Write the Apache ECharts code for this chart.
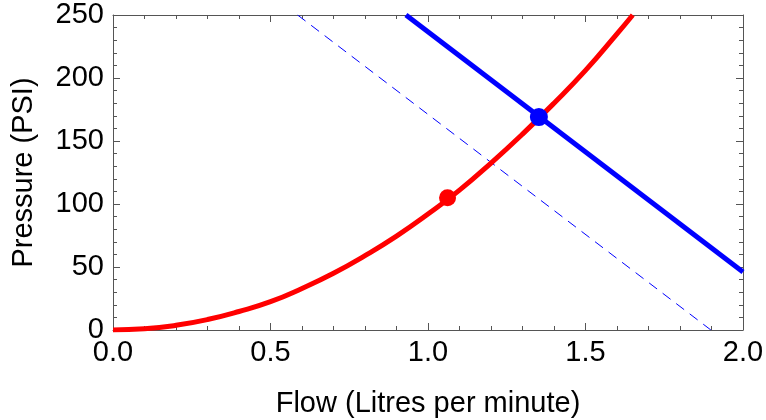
<!DOCTYPE html>
<html>
<head>
<meta charset="utf-8">
<script src="https://cdn.jsdelivr.net/npm/echarts@6/dist/echarts.min.js"></script>
<style>html,body{margin:0;padding:0;background:#fff}#c{width:766px;height:420px}</style>
</head>
<body>
<div id="c"></div>
<script>
// Pump curve (red): flow (L/min) vs pressure (PSI)
const pumpFlow = [0, 0.1, 0.2, 0.3, 0.4, 0.5, 0.6, 0.7, 0.8, 0.9, 1.0, 1.1, 1.2, 1.3, 1.4, 1.5, 1.6, 1.65];
const pumpPressure = [0, 0.9, 3.7, 8.3, 14.7, 22.5, 33, 45, 59, 74.5, 92, 111, 132.5, 155.5, 180, 206, 235, 250];
// System line (solid blue)
const sysFlow = [0.93, 2.0];
const sysPressure = [250, 46];
// Shifted system line (dashed blue)
const sys2Flow = [0.586, 1.898];
const sys2Pressure = [250, 0];
// Marked operating points
const redPoint = [1.062, 105];
const bluePoint = [1.352, 169];
// Axis settings
const xMin = 0, xMax = 2, xStep = 0.5;
const yMin = 0, yMax = 250, yStep = 50;
const xTitle = 'Flow (Litres per minute)';
const yTitle = 'Pressure (PSI)';

const pair = (xs, ys) => xs.map((x, i) => [x, ys[i]]);
const FONT = '"Liberation Sans", Arial, sans-serif';
const axisCol = '#555';

function xa(pos, labels) {
  return {
    type: 'value', position: pos, min: xMin, max: xMax, interval: xStep,
    name: labels ? xTitle : '', nameLocation: 'middle', nameGap: 59,
    nameTextStyle: { color: '#000', fontSize: 29, fontFamily: FONT },
    axisLine: { show: true, onZero: false, lineStyle: { color: axisCol, width: 1 } },
    axisTick: { show: true, inside: true, length: 7, lineStyle: { color: axisCol } },
    minorTick: { show: true, splitNumber: 5, length: 4, lineStyle: { color: axisCol } },
    axisLabel: { show: labels, color: '#000', fontSize: 29, fontFamily: FONT, margin: 8,
                 formatter: v => v.toFixed(1) },
    splitLine: { show: false }, minorSplitLine: { show: false }
  };
}
function ya(pos, labels) {
  return {
    type: 'value', position: pos, min: yMin, max: yMax, interval: yStep,
    name: labels ? yTitle : '', nameLocation: 'middle', nameGap: 75, nameRotate: 90,
    nameTextStyle: { color: '#000', fontSize: 29, fontFamily: FONT },
    axisLine: { show: true, onZero: false, lineStyle: { color: axisCol, width: 1 } },
    axisTick: { show: true, inside: true, length: 7, lineStyle: { color: axisCol } },
    minorTick: { show: true, splitNumber: 5, length: 4, lineStyle: { color: axisCol } },
    axisLabel: { show: labels, color: '#000', fontSize: 29, fontFamily: FONT, margin: 9 },
    splitLine: { show: false }, minorSplitLine: { show: false }
  };
}

const chart = echarts.init(document.getElementById('c'), null, { renderer: 'canvas' });
chart.setOption({
  animation: false,
  backgroundColor: '#fff',
  grid: { left: 113, right: 23, top: 15, bottom: 90, containLabel: false, outerBoundsMode: 'none' },
  xAxis: [xa('bottom', true), xa('top', false)],
  yAxis: [ya('left', true), ya('right', false)],
  series: [
    { type: 'line', data: pair(sys2Flow, sys2Pressure), showSymbol: false, clip: true, z: 2,
      lineStyle: { color: '#0000ff', width: 1, type: [10, 7] } },
    { type: 'line', data: pair(sysFlow, sysPressure), showSymbol: false, clip: true, z: 2,
      lineStyle: { color: '#0000ff', width: 5 } },
    { type: 'line', data: pair(pumpFlow, pumpPressure), showSymbol: false, smooth: true, clip: true, z: 3,
      lineStyle: { color: '#ff0000', width: 5 } },
    { type: 'scatter', data: [redPoint], symbol: 'circle', symbolSize: 17, z: 5,
      itemStyle: { color: '#ff0000', opacity: 1 } },
    { type: 'scatter', data: [bluePoint], symbol: 'circle', symbolSize: 18, z: 5,
      itemStyle: { color: '#0000ff', opacity: 1 } }
  ]
});
</script>
</body>
</html>
